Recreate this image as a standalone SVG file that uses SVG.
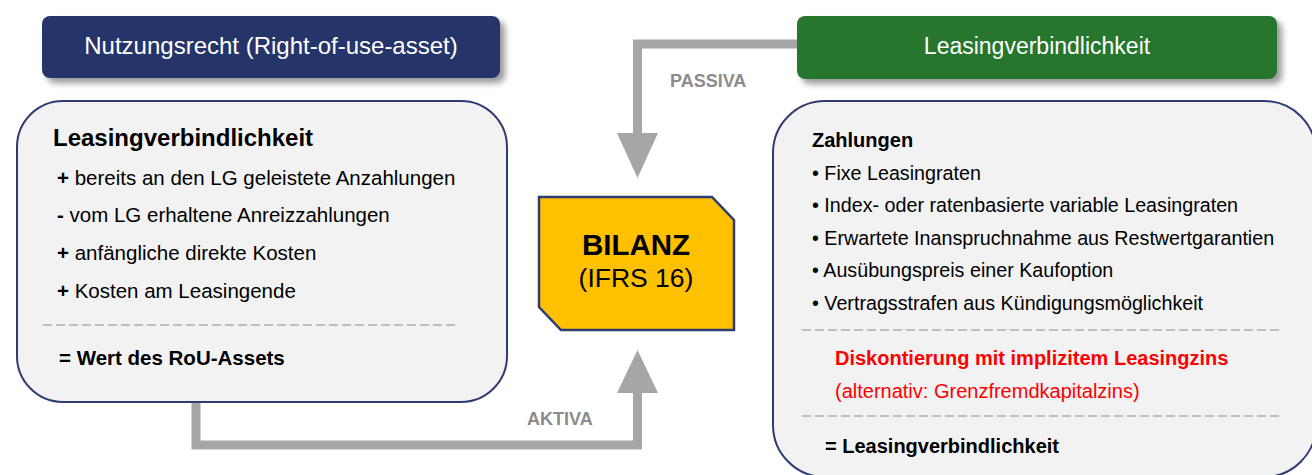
<svg xmlns="http://www.w3.org/2000/svg" width="1312" height="475" viewBox="0 0 1312 475">
<defs>
<filter id="sh" x="-10%" y="-30%" width="125%" height="180%">
<feDropShadow dx="5" dy="5" stdDeviation="3" flood-color="#000" flood-opacity="0.4"/>
</filter>
</defs>
<style>
text{font-family:"Liberation Sans",Arial,sans-serif;fill:#000}
.hd{fill:#fff;text-anchor:middle}
.b{font-weight:bold}
.tl{font-size:20.5px}
.tr{font-size:20px}
.tb{font-size:19.7px}
.box{fill:#F2F2F2;stroke:#2F3C73;stroke-width:2}
.dash{stroke:#BFBFBF;stroke-width:2;stroke-dasharray:9 4;fill:none}
.conn{fill:none;stroke:#A6A6A6;stroke-width:9}
.head{fill:#A6A6A6}
.lbl{font-size:18px;font-weight:bold;fill:#8C8C8C}
.red{fill:#FF0000}
</style>
<g id="connectors">
<polyline class="conn" points="196,402 196,445 637.5,445 637.5,390"/>
<polygon class="head" points="617,393 658,393 637.5,350"/>
<polyline class="conn" points="800,44 637.5,44 637.5,136"/>
<polygon class="head" points="617,133 658,133 637.5,178"/>
<text class="lbl" x="670" y="87">PASSIVA</text>
<text class="lbl" x="527" y="425">AKTIVA</text>
</g>
<g id="hdr-left">
<rect x="42" y="16" width="458" height="62" rx="8" fill="#283469" filter="url(#sh)"/>
<text class="hd" x="271" y="54" font-size="24">Nutzungsrecht (Right-of-use-asset)</text>
</g>
<g id="hdr-right">
<rect x="797" y="16" width="480" height="63" rx="8" fill="#26762E" filter="url(#sh)"/>
<text class="hd" x="1037" y="54" font-size="23">Leasingverbindlichkeit</text>
</g>
<g id="box-left">
<rect class="box" x="17" y="101" width="490" height="301" rx="46"/>
<text class="b" x="53" y="146" font-size="24">Leasingverbindlichkeit</text>
<text class="tl" x="57" y="185"><tspan class="b">+</tspan> bereits an den LG geleistete Anzahlungen</text>
<text class="tl" x="57" y="222"><tspan class="b">-</tspan> vom LG erhaltene Anreizzahlungen</text>
<text class="tl" x="57" y="260"><tspan class="b">+</tspan> anfängliche direkte Kosten</text>
<text class="tl" x="57" y="298"><tspan class="b">+</tspan> Kosten am Leasingende</text>
<line class="dash" x1="43" y1="325" x2="456" y2="325"/>
<text class="tl b" x="59" y="365">= Wert des RoU-Assets</text>
</g>
<g id="bilanz">
<polygon points="539,197 712,197 734,220 734,330 561,330 539,307" fill="#FFC000" stroke="#2F3C73" stroke-width="2.5"/>
<text x="636" y="255" font-size="29.5" font-weight="bold" text-anchor="middle">BILANZ</text>
<text x="636" y="287" font-size="26.5" text-anchor="middle">(IFRS 16)</text>
</g>
<g id="box-right">
<rect class="box" x="773" y="101" width="543" height="376" rx="52"/>
<text class="tr b" x="812" y="147">Zahlungen</text>
<text class="tb" x="812" y="180">• Fixe Leasingraten</text>
<text class="tb" x="812" y="212">• Index- oder ratenbasierte variable Leasingraten</text>
<text class="tb" x="812" y="245">• Erwartete Inanspruchnahme aus Restwertgarantien</text>
<text class="tb" x="812" y="277">• Ausübungspreis einer Kaufoption</text>
<text class="tb" x="812" y="310">• Vertragsstrafen aus Kündigungsmöglichkeit</text>
<line class="dash" x1="802" y1="330" x2="1279" y2="330"/>
<text class="tr b red" x="835" y="365">Diskontierung mit implizitem Leasingzins</text>
<text class="tr red" x="835" y="398">(alternativ: Grenzfremdkapitalzins)</text>
<line class="dash" x1="802" y1="416" x2="1279" y2="416"/>
<text class="tr b" x="825" y="453">= Leasingverbindlichkeit</text>
</g>
</svg>
